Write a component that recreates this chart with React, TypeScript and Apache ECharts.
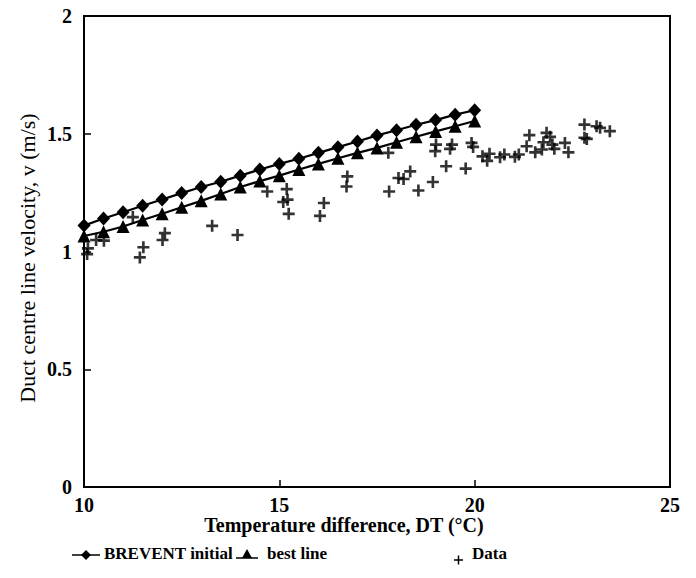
import React, { useEffect, useRef } from "react";
import * as echarts from "echarts";

const lineDT = [10, 10.5, 11, 11.5, 12, 12.5, 13, 13.5, 14, 14.5, 15, 15.5, 16, 16.5, 17, 17.5, 18, 18.5, 19, 19.5, 20];
const breventInitial = [1.110, 1.140, 1.167, 1.194, 1.221, 1.248, 1.274, 1.296, 1.322, 1.348, 1.372, 1.394, 1.419, 1.443, 1.467, 1.493, 1.515, 1.538, 1.558, 1.581, 1.600];
const bestLine = [1.066, 1.084, 1.106, 1.134, 1.160, 1.188, 1.215, 1.244, 1.274, 1.299, 1.322, 1.348, 1.372, 1.396, 1.419, 1.440, 1.464, 1.487, 1.510, 1.532, 1.554];

const dataDT = [10.08, 10.1, 10.31, 10.51, 11.25, 11.52, 11.43, 12.07, 12.01, 13.28, 13.93, 14.69, 15.19, 15.21, 15.10, 15.24, 16.14, 16.04, 16.74, 16.72, 17.79, 17.81, 18.05, 18.18, 18.35, 18.56, 18.93, 19.01, 18.99, 19.27, 19.42, 19.37, 19.77, 19.92, 19.96, 20.20, 20.32, 20.38, 20.65, 20.76, 21.03, 21.13, 21.40, 21.33, 21.55, 21.72, 21.76, 21.84, 21.93, 21.99, 22.04, 22.31, 22.40, 22.81, 22.81, 22.87, 23.12, 23.21, 23.46];
const dataV = [0.989, 1.013, 1.049, 1.046, 1.146, 1.018, 0.975, 1.078, 1.049, 1.109, 1.070, 1.255, 1.265, 1.220, 1.210, 1.160, 1.206, 1.151, 1.319, 1.276, 1.419, 1.255, 1.312, 1.308, 1.340, 1.259, 1.295, 1.454, 1.426, 1.362, 1.454, 1.436, 1.352, 1.461, 1.444, 1.404, 1.385, 1.415, 1.400, 1.412, 1.402, 1.412, 1.494, 1.447, 1.421, 1.433, 1.464, 1.504, 1.487, 1.454, 1.436, 1.461, 1.421, 1.539, 1.483, 1.478, 1.532, 1.525, 1.511];

const xTicks = { min: 10, max: 25, interval: 5 };
const yTicks = { min: 0, max: 2, interval: 0.5 };

const SERIF = "'Liberation Serif', 'DejaVu Serif', serif";
const PLUS = "path://M3.9,0h2.2v3.9h3.9v2.2h-3.9v3.9h-2.2v-3.9h-3.9v-2.2h3.9z";

export default function App() {
  const ref = useRef<HTMLDivElement>(null);
  useEffect(() => {
    if (!ref.current) return;
    const chart = echarts.init(ref.current, null, { renderer: "svg" });
    const labelStyle = { color: "#000", fontFamily: SERIF, fontWeight: "bold" as const, fontSize: 20 };
    chart.setOption({
      animation: false,
      backgroundColor: "#fff",
      grid: { left: 84, right: 26, top: 16, bottom: 91, show: true, borderColor: "#000", borderWidth: 2, backgroundColor: "transparent" },
      xAxis: {
        type: "value",
        min: xTicks.min,
        max: xTicks.max,
        interval: xTicks.interval,
        axisLine: { show: true, lineStyle: { color: "#000", width: 2 } },
        axisTick: { show: true, inside: true, length: 7, lineStyle: { color: "#000", width: 1.5 } },
        splitLine: { show: false },
        axisLabel: { ...labelStyle, margin: 8 },
      },
      yAxis: {
        type: "value",
        min: yTicks.min,
        max: yTicks.max,
        interval: yTicks.interval,
        axisLine: { show: true, lineStyle: { color: "#000", width: 2 } },
        axisTick: { show: true, inside: true, length: 7, lineStyle: { color: "#000", width: 1.5 } },
        splitLine: { show: false },
        axisLabel: { ...labelStyle, margin: 12 },
      },
      series: [
        {
          name: "Data",
          type: "scatter",
          data: dataDT.map((d, i) => [d, dataV[i]]),
          symbol: PLUS,
          symbolSize: 12,
          itemStyle: { color: "#000" },
        },
        {
          name: "BREVENT initial",
          type: "line",
          data: lineDT.map((d, i) => [d, breventInitial[i]]),
          symbol: "diamond",
          symbolSize: [13, 14],
          lineStyle: { color: "#000", width: 2.2 },
          itemStyle: { color: "#000" },
        },
        {
          name: "best line",
          type: "line",
          data: lineDT.map((d, i) => [d, bestLine[i]]),
          symbol: "triangle",
          symbolSize: 13,
          lineStyle: { color: "#000", width: 2.2 },
          itemStyle: { color: "#000" },
        },
      ],
      graphic: [
        {
          type: "text",
          x: 27,
          y: 258,
          rotation: Math.PI / 2,
          style: { text: "Duct centre line velocity, v (m/s)", fill: "#000", font: `22px ${SERIF}`, align: "center", verticalAlign: "middle" },
        },
        {
          type: "text",
          x: 344,
          y: 525,
          style: { text: "Temperature difference, DT (°C)", fill: "#000", font: `bold 20px ${SERIF}`, align: "center", verticalAlign: "middle" },
        },
        { type: "line", shape: { x1: 72, y1: 555, x2: 100, y2: 555 }, style: { stroke: "#000", lineWidth: 1.5 } },
        { type: "polygon", shape: { points: [[86, 550], [91, 555], [86, 560], [81, 555]] }, style: { fill: "#000" } },
        { type: "text", x: 104, y: 553, style: { text: "BREVENT initial", fill: "#000", font: `bold 17px ${SERIF}`, verticalAlign: "middle" } },
        { type: "line", shape: { x1: 236, y1: 558, x2: 258, y2: 558 }, style: { stroke: "#000", lineWidth: 1.5 } },
        { type: "polygon", shape: { points: [[247, 549], [252, 558], [242, 558]] }, style: { fill: "#000" } },
        { type: "text", x: 267, y: 553, style: { text: "best line", fill: "#000", font: `bold 17px ${SERIF}`, verticalAlign: "middle" } },
        { type: "line", shape: { x1: 454, y1: 560, x2: 463, y2: 560 }, style: { stroke: "#000", lineWidth: 1.5 } },
        { type: "line", shape: { x1: 458.5, y1: 555.5, x2: 458.5, y2: 564.5 }, style: { stroke: "#000", lineWidth: 1.5 } },
        { type: "text", x: 472, y: 553, style: { text: "Data", fill: "#000", font: `bold 17px ${SERIF}`, verticalAlign: "middle" } },
      ],
    });
    return () => chart.dispose();
  }, []);
  return <div ref={ref} style={{ width: 696, height: 578, position: "absolute", left: 0, top: 0 }} />;
}
